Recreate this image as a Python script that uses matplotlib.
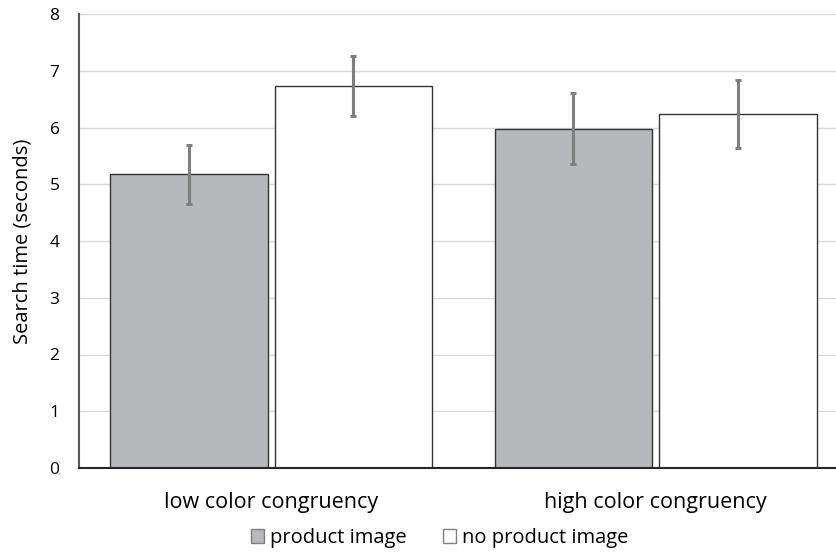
import matplotlib
matplotlib.use("Agg")
import matplotlib.pyplot as plt
import numpy as np
from matplotlib.patches import Patch

categories = ["low color congruency", "high color congruency"]
series_names = ["product image", "no product image"]
product_image = [5.18, 5.98]
product_image_err = [0.52, 0.62]
no_product_image = [6.73, 6.23]
no_product_image_err = [0.53, 0.60]
yticks = [0, 1, 2, 3, 4, 5, 6, 7, 8]

plt.rcParams['font.family'] = ['Open Sans', 'DejaVu Sans']

fig = plt.figure(figsize=(8.37, 5.52), dpi=100)
ax = fig.add_axes([79/837, 1 - 468/552, 1 - 79/837, (468 - 14)/552])

x = np.arange(len(categories))
w = 0.41
off = 0.214
gray = "#b7b8bb"
ecol = "#7f7f7f"
ax.bar(x - off, product_image, w, color=gray, edgecolor="#333333", linewidth=1, zorder=2)
ax.bar(x + off, no_product_image, w, color="white", edgecolor="#333333", linewidth=1, zorder=2)
ax.errorbar(x - off, product_image, yerr=product_image_err, fmt="none", ecolor=ecol,
            elinewidth=2.2, capsize=2.5, capthick=2.2, zorder=3)
ax.errorbar(x + off, no_product_image, yerr=no_product_image_err, fmt="none", ecolor=ecol,
            elinewidth=2.2, capsize=2.5, capthick=2.2, zorder=3)

ax.set_ylim(0, 8)
ax.set_xlim(-0.5, 1.472)
ax.set_yticks(yticks)
ax.set_xticks(x)
ax.set_xticklabels(categories, fontsize=15.5)
ax.tick_params(axis="both", length=0, labelsize=12.5, colors="#000000")
ax.tick_params(axis="x", pad=17, labelsize=15.5)
ax.tick_params(axis="y", pad=14)
ax.yaxis.grid(True, color="#d9d9d9", linewidth=1, zorder=0)
ax.set_axisbelow(True)
for s in ["top", "right"]:
    ax.spines[s].set_visible(False)
ax.spines["left"].set_color("#595959")
ax.spines["left"].set_linewidth(1.5)
ax.spines["bottom"].set_color("#262626")
ax.spines["bottom"].set_linewidth(1.5)
ax.set_ylabel("Search time (seconds)", fontsize=14.5, labelpad=12)

handles = [Patch(facecolor=gray, edgecolor="#7f7f7f", label=series_names[0]),
           Patch(facecolor="white", edgecolor="#7f7f7f", label=series_names[1])]
fig.legend(handles=handles, loc="center", bbox_to_anchor=(440/837, 1 - 538/552), ncol=2,
           frameon=False, fontsize=14.5, handlelength=0.65, handleheight=0.65,
           handletextpad=0.3, columnspacing=1.8)

fig.savefig("out.png", dpi=100)
